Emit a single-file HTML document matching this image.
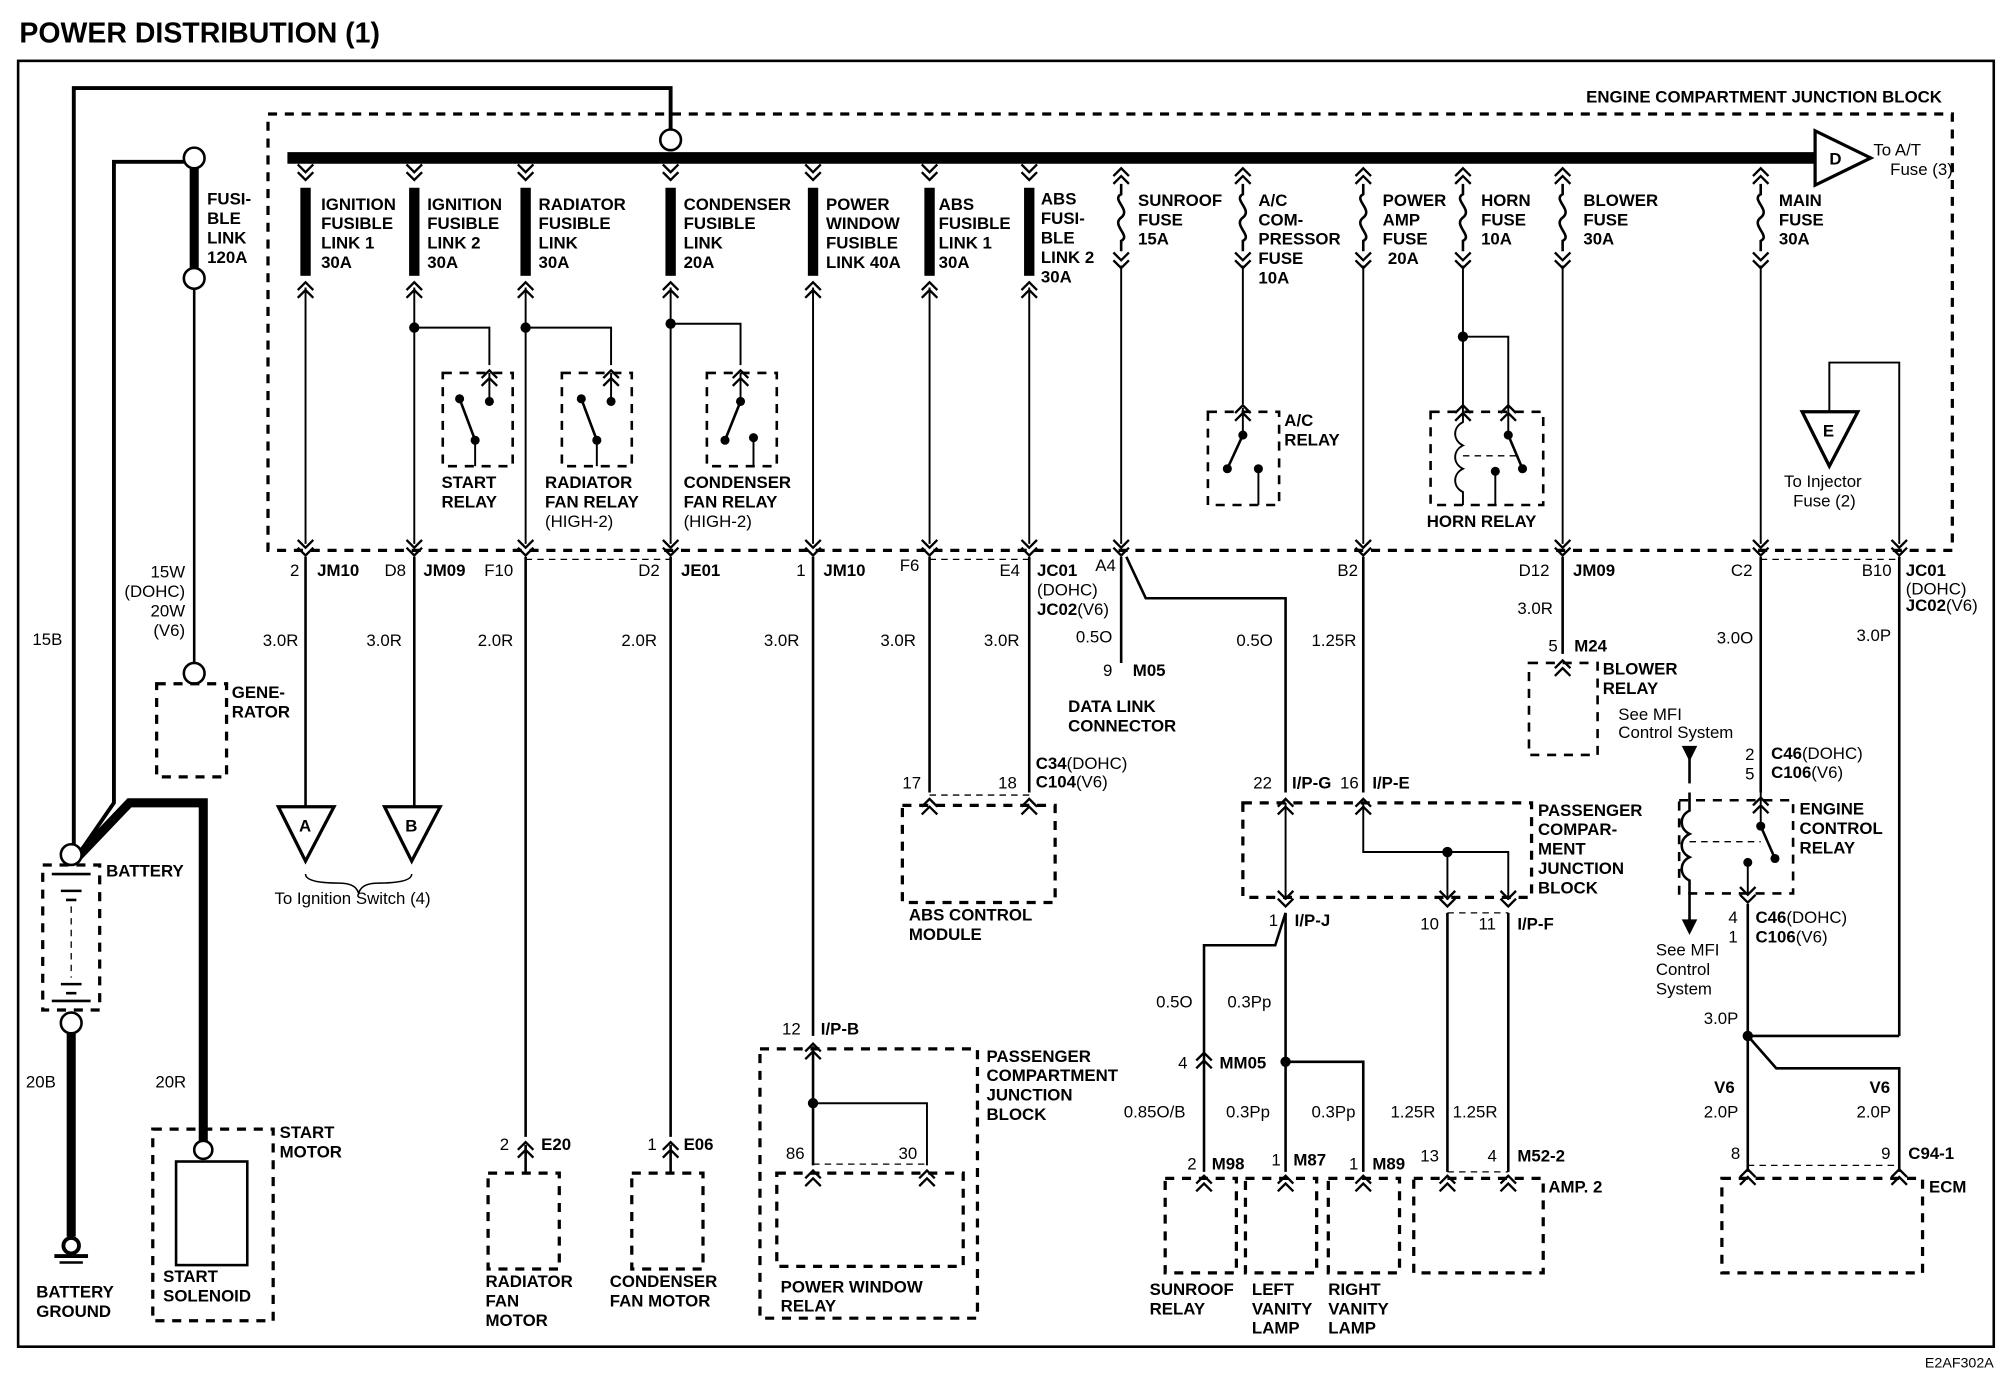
<!DOCTYPE html>
<html><head><meta charset="utf-8"><style>
html,body{margin:0;padding:0;background:#fff}
svg{display:block}
text{font-family:"Liberation Sans",Arial,sans-serif;font-size:13px;fill:#000}
.b{font-weight:bold}
.w{stroke:#000;fill:none;stroke-width:2}
.tw{stroke:#000;fill:none;stroke-width:3}
.th{stroke:#000;fill:none;stroke-width:7}
.d{stroke:#000;fill:none;stroke-width:2.5;stroke-dasharray:7,6}
.dt{stroke:#000;fill:none;stroke-width:1;stroke-dasharray:5,4}
.c{stroke:#000;fill:#fff;stroke-width:2}
</style></head><body>
<svg width="2008" height="1392" viewBox="0 0 1551 1075" preserveAspectRatio="none" xmlns="http://www.w3.org/2000/svg">
<defs>
<path id="dn" d="M-6,-10 L0,-4 L6,-10 M-6,-4 L0,2 L6,-4" stroke="#000" stroke-width="1.8" fill="none"/>
<path id="up" d="M-6,10 L0,4 L6,10 M-6,4 L0,-2 L6,4" stroke="#000" stroke-width="1.8" fill="none"/>
<path id="fz" d="M0,0 L0,8 C-8,12 8,20 0,26 C-8,32 8,40 0,44 L0,52" stroke="#000" stroke-width="2" fill="none"/>
</defs>
<rect width="1551" height="1075" fill="#fff"/>
<text x="15" y="33" class="b" style="font-size:22px">POWER DISTRIBUTION (1)</text>
<rect x="14" y="47" width="1526" height="993" class="w"/>
<text x="1540" y="1056" text-anchor="end" style="font-size:11px">E2AF302A</text>

<rect x="207" y="88" width="1301" height="337" class="d"/>
<text x="1500" y="79" text-anchor="end" class="b">ENGINE COMPARTMENT JUNCTION BLOCK</text>
<line x1="222" y1="122" x2="1402" y2="122" style="stroke:#000;stroke-width:9"/>
<path d="M1402,101 L1402,143 L1445,122 Z" class="c" style="stroke-width:2.5"/>
<text x="1413" y="127" class="b">D</text>
<text x="1447" y="120">To A/T</text><text x="1460" y="135">Fuse (3)</text>

<polyline points="57,665 57,68 518,68 518,100" class="tw"/>
<circle cx="518" cy="108" r="8" class="c"/>
<polyline points="142,125 88,125 88,620 57,665" class="tw"/>
<line x1="150" y1="130" x2="150" y2="212" class="th"/>
<circle cx="150" cy="122" r="8" class="c"/><circle cx="150" cy="215" r="8" class="c"/>
<text x="160" y="158" class="b">FUSI-</text><text x="160" y="173" class="b">BLE</text><text x="160" y="188" class="b">LINK</text><text x="160" y="203" class="b">120A</text>
<line x1="150" y1="223" x2="150" y2="512" class="w"/>
<circle cx="150" cy="520" r="8" class="c"/>
<text x="143" y="446" text-anchor="end">15W</text><text x="143" y="461" text-anchor="end">(DOHC)</text><text x="143" y="476" text-anchor="end">20W</text><text x="143" y="491" text-anchor="end">(V6)</text>
<text x="25" y="498">15B</text>
<rect x="121" y="528" width="54" height="72" class="d"/>
<text x="179" y="539" class="b">GENE-</text><text x="179" y="554" class="b">RATOR</text>

<polyline points="57,665 100,620 157,620 157,882" class="th"/>
<rect x="33" y="668" width="44" height="112" class="d"/>
<line x1="40" y1="675" x2="70" y2="675" class="w"/>
<line x1="40" y1="773" x2="70" y2="773" class="w"/>
<line x1="47" y1="688" x2="63" y2="688" class="w"/><line x1="51" y1="695" x2="59" y2="695" class="w"/>
<line x1="55" y1="700" x2="55" y2="755" class="dt"/>
<line x1="47" y1="760" x2="63" y2="760" class="w"/><line x1="51" y1="767" x2="59" y2="767" class="w"/>
<circle cx="55" cy="660" r="8" class="c"/><circle cx="55" cy="790" r="8" class="c"/>
<text x="82" y="677" class="b">BATTERY</text>
<line x1="55" y1="798" x2="55" y2="955" class="th"/>
<circle cx="55" cy="962" r="6" class="c" style="stroke-width:3"/>
<line x1="42" y1="970" x2="68" y2="970" class="w" style="stroke-width:3"/>
<line x1="46" y1="975" x2="64" y2="975" class="w"/>
<text x="28" y="1002" class="b">BATTERY</text><text x="28" y="1017" class="b">GROUND</text>
<text x="20" y="840">20B</text><text x="120" y="840">20R</text>
<rect x="118" y="872" width="93" height="148" class="d"/>
<circle cx="157" cy="888" r="7" class="c"/>
<rect x="136" y="897" width="55" height="80" class="w"/>
<text x="216" y="879" class="b">START</text><text x="216" y="894" class="b">MOTOR</text>
<text x="126" y="990" class="b">START</text><text x="126" y="1005" class="b">SOLENOID</text>

<g>
<use href="#dn" x="236" y="137"/><rect x="232" y="145" width="8" height="68"/><use href="#up" x="236" y="220"/>
<use href="#dn" x="320" y="137"/><rect x="316" y="145" width="8" height="68"/><use href="#up" x="320" y="220"/>
<use href="#dn" x="406" y="137"/><rect x="402" y="145" width="8" height="68"/><use href="#up" x="406" y="220"/>
<use href="#dn" x="518" y="137"/><rect x="514" y="145" width="8" height="68"/><use href="#up" x="518" y="220"/>
<use href="#dn" x="628" y="137"/><rect x="624" y="145" width="8" height="68"/><use href="#up" x="628" y="220"/>
<use href="#dn" x="718" y="137"/><rect x="714" y="145" width="8" height="68"/><use href="#up" x="718" y="220"/>
<use href="#dn" x="795" y="137"/><rect x="791" y="145" width="8" height="68"/><use href="#up" x="795" y="220"/>
</g>
<g>
<text x="248" y="162" class="b">IGNITION</text><text x="248" y="177" class="b">FUSIBLE</text><text x="248" y="192" class="b">LINK 1</text><text x="248" y="207" class="b">30A</text>
<text x="330" y="162" class="b">IGNITION</text><text x="330" y="177" class="b">FUSIBLE</text><text x="330" y="192" class="b">LINK 2</text><text x="330" y="207" class="b">30A</text>
<text x="416" y="162" class="b">RADIATOR</text><text x="416" y="177" class="b">FUSIBLE</text><text x="416" y="192" class="b">LINK</text><text x="416" y="207" class="b">30A</text>
<text x="528" y="162" class="b">CONDENSER</text><text x="528" y="177" class="b">FUSIBLE</text><text x="528" y="192" class="b">LINK</text><text x="528" y="207" class="b">20A</text>
<text x="638" y="162" class="b">POWER</text><text x="638" y="177" class="b">WINDOW</text><text x="638" y="192" class="b">FUSIBLE</text><text x="638" y="207" class="b">LINK 40A</text>
<text x="725" y="162" class="b">ABS</text><text x="725" y="177" class="b">FUSIBLE</text><text x="725" y="192" class="b">LINK 1</text><text x="725" y="207" class="b">30A</text>
<text x="804" y="158" class="b">ABS</text><text x="804" y="173" class="b">FUSI-</text><text x="804" y="188" class="b">BLE</text><text x="804" y="203" class="b">LINK 2</text><text x="804" y="218" class="b">30A</text>
</g>
<g>
<use href="#up" x="866" y="132"/><use href="#fz" x="866" y="142"/><use href="#dn" x="866" y="205"/>
<use href="#up" x="960" y="132"/><use href="#fz" x="960" y="142"/><use href="#dn" x="960" y="205"/>
<use href="#up" x="1053" y="132"/><use href="#fz" x="1053" y="142"/><use href="#dn" x="1053" y="205"/>
<use href="#up" x="1130" y="132"/><use href="#fz" x="1130" y="142"/><use href="#dn" x="1130" y="205"/>
<use href="#up" x="1207" y="132"/><use href="#fz" x="1207" y="142"/><use href="#dn" x="1207" y="205"/>
<use href="#up" x="1360" y="132"/><use href="#fz" x="1360" y="142"/><use href="#dn" x="1360" y="205"/>
</g>
<text x="879" y="159" class="b">SUNROOF</text><text x="879" y="174" class="b">FUSE</text><text x="879" y="189" class="b">15A</text>
<text x="972" y="159" class="b">A/C</text><text x="972" y="174" class="b">COM-</text><text x="972" y="189" class="b">PRESSOR</text><text x="972" y="204" class="b">FUSE</text><text x="972" y="219" class="b">10A</text>
<text x="1068" y="159" class="b">POWER</text><text x="1068" y="174" class="b">AMP</text><text x="1068" y="189" class="b">FUSE</text><text x="1072" y="204" class="b">20A</text>
<text x="1144" y="159" class="b">HORN</text><text x="1144" y="174" class="b">FUSE</text><text x="1144" y="189" class="b">10A</text>
<text x="1223" y="159" class="b">BLOWER</text><text x="1223" y="174" class="b">FUSE</text><text x="1223" y="189" class="b">30A</text>
<text x="1374" y="159" class="b">MAIN</text><text x="1374" y="174" class="b">FUSE</text><text x="1374" y="189" class="b">30A</text>

<g class="w" style="stroke-width:1.5">
<line x1="236" y1="222" x2="236" y2="420"/>
<line x1="320" y1="222" x2="320" y2="420"/>
<line x1="406" y1="222" x2="406" y2="420"/>
<line x1="518" y1="222" x2="518" y2="420"/>
<line x1="628" y1="222" x2="628" y2="420"/>
<line x1="718" y1="222" x2="718" y2="420"/>
<line x1="795" y1="222" x2="795" y2="420"/>
<line x1="866" y1="205" x2="866" y2="420"/>
<line x1="960" y1="205" x2="960" y2="312"/>
<line x1="1053" y1="205" x2="1053" y2="420"/>
<line x1="1130" y1="205" x2="1130" y2="312"/>
<line x1="1207" y1="205" x2="1207" y2="420"/>
<line x1="1360" y1="205" x2="1360" y2="420"/>
<polyline points="320,253 378,253 378,282"/>
<polyline points="406,253 472,253 472,282"/>
<polyline points="518,250 572,250 572,282"/>
<polyline points="1130,260 1165,260 1165,312"/>
<polyline points="1413,318 1413,280 1467,280 1467,420"/>
</g>
<circle cx="320" cy="253" r="4"/><circle cx="406" cy="253" r="4"/><circle cx="518" cy="250" r="4"/><circle cx="1130" cy="260" r="4"/>
<g>
<rect x="342" y="288" width="54" height="72" class="d" style="stroke-width:2"/>
<use href="#up" x="378" y="288"/><circle cx="378" cy="310" r="3.5"/><circle cx="355" cy="308" r="3.5"/><circle cx="367" cy="340" r="3.5"/>
<line x1="355" y1="308" x2="367" y2="340" class="w"/><line x1="367" y1="340" x2="367" y2="360" class="w" style="stroke-width:1.5"/><line x1="378" y1="288" x2="378" y2="310" class="w" style="stroke-width:1.5"/>
<text x="341" y="377" class="b">START</text><text x="341" y="392" class="b">RELAY</text>
<rect x="434" y="288" width="54" height="72" class="d" style="stroke-width:2"/>
<use href="#up" x="472" y="288"/><circle cx="472" cy="310" r="3.5"/><circle cx="449" cy="308" r="3.5"/><circle cx="461" cy="340" r="3.5"/>
<line x1="449" y1="308" x2="461" y2="340" class="w"/><line x1="461" y1="340" x2="461" y2="360" class="w" style="stroke-width:1.5"/><line x1="472" y1="288" x2="472" y2="310" class="w" style="stroke-width:1.5"/>
<text x="421" y="377" class="b">RADIATOR</text><text x="421" y="392" class="b">FAN RELAY</text><text x="421" y="407">(HIGH-2)</text>
<rect x="546" y="288" width="54" height="72" class="d" style="stroke-width:2"/>
<use href="#up" x="572" y="288"/><circle cx="572" cy="310" r="3.5"/><circle cx="560" cy="340" r="3.5"/><circle cx="582" cy="338" r="3.5"/>
<line x1="572" y1="310" x2="560" y2="340" class="w"/><line x1="582" y1="338" x2="582" y2="360" class="w" style="stroke-width:1.5"/><line x1="572" y1="288" x2="572" y2="310" class="w" style="stroke-width:1.5"/>
<text x="528" y="377" class="b">CONDENSER</text><text x="528" y="392" class="b">FAN RELAY</text><text x="528" y="407">(HIGH-2)</text>
<rect x="933" y="318" width="55" height="72" class="d" style="stroke-width:2"/>
<use href="#up" x="960" y="315"/><line x1="960" y1="315" x2="960" y2="335" class="w" style="stroke-width:1.5"/>
<circle cx="960" cy="336" r="3.5"/><circle cx="948" cy="362" r="3.5"/><circle cx="972" cy="362" r="3.5"/>
<line x1="960" y1="336" x2="948" y2="362" class="w"/><line x1="972" y1="362" x2="972" y2="390" class="w" style="stroke-width:1.5"/>
<text x="992" y="329" class="b">A/C</text><text x="992" y="344" class="b">RELAY</text>
<rect x="1105" y="318" width="87" height="72" class="d" style="stroke-width:2"/>
<use href="#up" x="1130" y="315"/><use href="#up" x="1165" y="315"/>
<path d="M1130,312 L1130,326 C1122,330 1122,340 1130,344 C1122,348 1122,358 1130,362 C1122,366 1122,376 1130,380 L1130,390" class="w" style="stroke-width:1.5"/>
<line x1="1130" y1="352" x2="1175" y2="352" class="dt"/>
<line x1="1165" y1="312" x2="1165" y2="336" class="w" style="stroke-width:1.5"/>
<circle cx="1165" cy="336" r="3.5"/><circle cx="1176" cy="362" r="3.5"/><circle cx="1155" cy="364" r="3.5"/>
<line x1="1165" y1="336" x2="1176" y2="362" class="w"/><line x1="1155" y1="364" x2="1155" y2="390" class="w" style="stroke-width:1.5"/>
<text x="1102" y="407" class="b">HORN RELAY</text>
</g>
<path d="M1392,318 L1435,318 L1413,360 Z" class="c" style="stroke-width:2.5"/>
<text x="1408" y="337" class="b">E</text>
<text x="1378" y="376">To Injector</text><text x="1385" y="391">Fuse (2)</text>

<g>
<use href="#dn" x="236" y="427"/><use href="#dn" x="320" y="427"/><use href="#dn" x="406" y="427"/><use href="#dn" x="518" y="427"/>
<use href="#dn" x="628" y="427"/><use href="#dn" x="718" y="427"/><use href="#dn" x="795" y="427"/><use href="#dn" x="866" y="427"/>
<use href="#dn" x="1053" y="427"/><use href="#dn" x="1207" y="427"/><use href="#dn" x="1360" y="427"/><use href="#dn" x="1467" y="427"/>
</g>
<g class="dt"><line x1="406" y1="432" x2="518" y2="432"/><line x1="718" y1="432" x2="795" y2="432"/><line x1="1360" y1="432" x2="1467" y2="432"/></g>

<g class="w">
<line x1="236" y1="430" x2="236" y2="623"/>
<line x1="320" y1="430" x2="320" y2="623"/>
<line x1="406" y1="430" x2="406" y2="878"/>
<line x1="518" y1="430" x2="518" y2="878"/>
<line x1="628" y1="430" x2="628" y2="800"/>
<line x1="718" y1="430" x2="718" y2="612"/>
<line x1="795" y1="430" x2="795" y2="612"/>
<line x1="866" y1="430" x2="866" y2="512"/>
<polyline points="870,430 885,462 993,462 993,612"/>
<line x1="1053" y1="430" x2="1053" y2="612"/>
<line x1="1207" y1="430" x2="1207" y2="505"/>
<line x1="1360" y1="430" x2="1360" y2="612"/>
<line x1="1467" y1="430" x2="1467" y2="800"/>
<polyline points="1467,800 1350,800 1350,905"/>
<polyline points="1350,800 1372,825 1467,825 1467,905"/>
</g>
<circle cx="1350" cy="800" r="4"/>
<text x="224" y="445">2</text><text x="245" y="445" class="b">JM10</text>
<text x="297" y="445">D8</text><text x="327" y="445" class="b">JM09</text>
<text x="374" y="445">F10</text>
<text x="493" y="445">D2</text><text x="526" y="445" class="b">JE01</text>
<text x="615" y="445">1</text><text x="636" y="445" class="b">JM10</text>
<text x="695" y="441">F6</text>
<text x="772" y="445">E4</text><text x="801" y="445" class="b">JC01</text><text x="801" y="460">(DOHC)</text><text x="801" y="475" class="b">JC02<tspan style="font-weight:normal">(V6)</tspan></text>
<text x="846" y="441">A4</text>
<text x="1033" y="445">B2</text>
<text x="1173" y="445">D12</text><text x="1215" y="445" class="b">JM09</text>
<text x="1337" y="445">C2</text>
<text x="1438" y="445">B10</text><text x="1472" y="445" class="b">JC01</text><text x="1472" y="459">(DOHC)</text><text x="1472" y="472" class="b">JC02<tspan style="font-weight:normal">(V6)</tspan></text>
<text x="203" y="499">3.0R</text><text x="283" y="499">3.0R</text><text x="369" y="499">2.0R</text><text x="480" y="499">2.0R</text>
<text x="590" y="499">3.0R</text><text x="680" y="499">3.0R</text><text x="760" y="499">3.0R</text><text x="831" y="496">0.5O</text>
<text x="955" y="499">0.5O</text><text x="1013" y="499">1.25R</text><text x="1172" y="474">3.0R</text>
<text x="1326" y="497">3.0O</text><text x="1434" y="495">3.0P</text>

<path d="M215,623 L258,623 L236,665 Z" class="c" style="stroke-width:2.5"/><text x="231" y="642" class="b">A</text>
<path d="M297,623 L340,623 L318,665 Z" class="c" style="stroke-width:2.5"/><text x="313" y="642" class="b">B</text>
<path d="M236,675 Q236,682 262,682 Q275,682 277,690 Q279,682 292,682 Q318,682 318,675" class="w" style="stroke-width:1.2"/>
<text x="212" y="698">To Ignition Switch (4)</text>

<text x="852" y="522">9</text><text x="875" y="522" class="b">M05</text>
<text x="825" y="550" class="b">DATA LINK</text><text x="825" y="565" class="b">CONNECTOR</text>

<use href="#up" x="718" y="619"/><use href="#up" x="795" y="619"/>
<line x1="718" y1="614" x2="795" y2="614" class="dt"/>
<rect x="697" y="622" width="118" height="75" class="d"/>
<text x="697" y="609">17</text><text x="771" y="609">18</text>
<text x="800" y="594" class="b">C34<tspan style="font-weight:normal">(DOHC)</tspan></text><text x="800" y="608" class="b">C104<tspan style="font-weight:normal">(V6)</tspan></text>
<text x="702" y="711" class="b">ABS CONTROL</text><text x="702" y="726" class="b">MODULE</text>

<use href="#up" x="1207" y="512"/>
<rect x="1181" y="512" width="53" height="71" class="d" style="stroke-width:2"/>
<text x="1196" y="503">5</text><text x="1216" y="503" class="b">M24</text>
<text x="1238" y="521" class="b">BLOWER</text><text x="1238" y="536" class="b">RELAY</text>
<text x="1250" y="556">See MFI</text><text x="1250" y="570">Control System</text>

<rect x="960" y="620" width="223" height="73" class="d"/>
<use href="#up" x="993" y="619"/><use href="#up" x="1053" y="619"/>
<use href="#dn" x="993" y="698"/><use href="#dn" x="1118" y="698"/><use href="#dn" x="1165" y="698"/>
<g class="w" style="stroke-width:1.5">
<line x1="993" y1="620" x2="993" y2="695"/>
<polyline points="1053,620 1053,658 1165,658 1165,695"/>
<line x1="1118" y1="658" x2="1118" y2="695"/>
</g>
<circle cx="1118" cy="658" r="4"/>
<line x1="1118" y1="705" x2="1165" y2="705" class="dt"/>
<text x="968" y="609">22</text><text x="998" y="609" class="b">I/P-G</text><text x="1035" y="609">16</text><text x="1060" y="609" class="b">I/P-E</text>
<text x="1188" y="630" class="b">PASSENGER</text><text x="1188" y="645" class="b">COMPAR-</text><text x="1188" y="660" class="b">MENT</text><text x="1188" y="675" class="b">JUNCTION</text><text x="1188" y="690" class="b">BLOCK</text>
<text x="980" y="715">1</text><text x="1000" y="715" class="b">I/P-J</text>
<text x="1097" y="718">10</text><text x="1142" y="718">11</text><text x="1172" y="718" class="b">I/P-F</text>
<g class="w">
<polyline points="993,705 985,730 930,730 930,905"/>
<line x1="993" y1="705" x2="993" y2="905"/>
<polyline points="993,820 1053,820 1053,905"/>
<line x1="1118" y1="705" x2="1118" y2="905"/>
<line x1="1165" y1="705" x2="1165" y2="905"/>
</g>
<circle cx="993" cy="820" r="4"/>
<use href="#up" x="930" y="815"/>
<text x="910" y="825">4</text><text x="942" y="825" class="b">MM05</text>
<text x="893" y="778">0.5O</text><text x="948" y="778">0.3Pp</text>
<text x="868" y="863">0.85O/B</text><text x="947" y="863">0.3Pp</text><text x="1013" y="863">0.3Pp</text>
<text x="1074" y="863">1.25R</text><text x="1122" y="863">1.25R</text>
<text x="917" y="903">2</text><text x="936" y="903" class="b">M98</text>
<text x="982" y="900">1</text><text x="999" y="900" class="b">M87</text>
<text x="1042" y="903">1</text><text x="1060" y="903" class="b">M89</text>
<text x="1097" y="897">13</text><text x="1149" y="897">4</text><text x="1172" y="897" class="b">M52-2</text>
<use href="#up" x="930" y="910"/><use href="#up" x="993" y="910"/><use href="#up" x="1053" y="910"/><use href="#up" x="1118" y="910"/><use href="#up" x="1165" y="910"/>
<line x1="1118" y1="905" x2="1165" y2="905" class="dt"/>
<rect x="900" y="910" width="55" height="73" class="d"/>
<rect x="962" y="910" width="55" height="73" class="d"/>
<rect x="1026" y="910" width="55" height="73" class="d"/>
<rect x="1092" y="910" width="100" height="73" class="d"/>
<text x="1196" y="921" class="b">AMP. 2</text>
<text x="888" y="1000" class="b">SUNROOF</text><text x="888" y="1015" class="b">RELAY</text>
<text x="967" y="1000" class="b">LEFT</text><text x="967" y="1015" class="b">VANITY</text><text x="967" y="1030" class="b">LAMP</text>
<text x="1026" y="1000" class="b">RIGHT</text><text x="1026" y="1015" class="b">VANITY</text><text x="1026" y="1030" class="b">LAMP</text>

<rect x="1297" y="618" width="88" height="72" class="d" style="stroke-width:2"/>
<polyline points="1305,585 1305,605" class="w"/><path d="M1299,576 L1311,576 L1305,588 Z"/>
<path d="M1305,612 L1305,626 C1297,630 1297,640 1305,644 C1297,648 1297,658 1305,662 C1297,666 1297,676 1305,680 L1305,712" class="w" style="stroke-width:2"/>
<path d="M1299,710 L1311,710 L1305,722 Z"/>
<line x1="1305" y1="650" x2="1360" y2="650" class="dt"/>
<use href="#up" x="1360" y="618"/>
<line x1="1360" y1="612" x2="1360" y2="638" class="w" style="stroke-width:1.5"/>
<circle cx="1360" cy="638" r="3.5"/><circle cx="1371" cy="663" r="3.5"/><circle cx="1350" cy="666" r="3.5"/>
<line x1="1360" y1="638" x2="1371" y2="663" class="w"/>
<line x1="1350" y1="666" x2="1350" y2="690" class="w" style="stroke-width:1.5"/>
<use href="#dn" x="1350" y="695"/><line x1="1350" y1="698" x2="1350" y2="800" class="w"/>
<text x="1279" y="738">See MFI</text><text x="1279" y="753">Control</text><text x="1279" y="768">System</text>
<text x="1348" y="587">2</text><text x="1368" y="586" class="b">C46<tspan style="font-weight:normal">(DOHC)</tspan></text>
<text x="1348" y="602">5</text><text x="1368" y="601" class="b">C106<tspan style="font-weight:normal">(V6)</tspan></text>
<text x="1390" y="629" class="b">ENGINE</text><text x="1390" y="644" class="b">CONTROL</text><text x="1390" y="659" class="b">RELAY</text>
<text x="1335" y="713">4</text><text x="1356" y="713" class="b">C46<tspan style="font-weight:normal">(DOHC)</tspan></text>
<text x="1335" y="728">1</text><text x="1356" y="728" class="b">C106<tspan style="font-weight:normal">(V6)</tspan></text>
<text x="1316" y="791">3.0P</text>
<text x="1324" y="844" class="b">V6</text><text x="1316" y="863">2.0P</text>
<text x="1444" y="844" class="b">V6</text><text x="1434" y="863">2.0P</text>
<text x="1337" y="895">8</text><text x="1453" y="895">9</text><text x="1474" y="895" class="b">C94-1</text>
<use href="#up" x="1350" y="905"/><use href="#up" x="1467" y="905"/>
<line x1="1350" y1="900" x2="1467" y2="900" class="dt"/>
<rect x="1330" y="910" width="155" height="73" class="d"/>
<text x="1490" y="921" class="b">ECM</text>

<use href="#up" x="628" y="808"/>
<text x="604" y="799">12</text><text x="634" y="799" class="b">I/P-B</text>
<rect x="587" y="810" width="168" height="208" class="d"/>
<polyline points="628,808 628,900" class="w"/>
<polyline points="628,852 716,852 716,900" class="w" style="stroke-width:1.5"/>
<circle cx="628" cy="852" r="4"/>
<use href="#up" x="628" y="906"/><use href="#up" x="716" y="906"/>
<line x1="628" y1="899" x2="716" y2="899" class="dt"/>
<rect x="600" y="906" width="144" height="72" class="d"/>
<text x="607" y="895">86</text><text x="694" y="895">30</text>
<text x="762" y="820" class="b">PASSENGER</text><text x="762" y="835" class="b">COMPARTMENT</text><text x="762" y="850" class="b">JUNCTION</text><text x="762" y="865" class="b">BLOCK</text>
<text x="603" y="998" class="b">POWER WINDOW</text><text x="603" y="1013" class="b">RELAY</text>

<use href="#up" x="406" y="884"/><use href="#up" x="518" y="884"/>
<line x1="406" y1="884" x2="406" y2="906" class="w"/><line x1="518" y1="884" x2="518" y2="906" class="w"/>
<text x="386" y="888">2</text><text x="418" y="888" class="b">E20</text>
<text x="500" y="888">1</text><text x="528" y="888" class="b">E06</text>
<rect x="377" y="906" width="55" height="74" class="d"/>
<rect x="488" y="906" width="55" height="74" class="d"/>
<text x="375" y="994" class="b">RADIATOR</text><text x="375" y="1009" class="b">FAN</text><text x="375" y="1024" class="b">MOTOR</text>
<text x="471" y="994" class="b">CONDENSER</text><text x="471" y="1009" class="b">FAN MOTOR</text>
</svg>
</body></html>
